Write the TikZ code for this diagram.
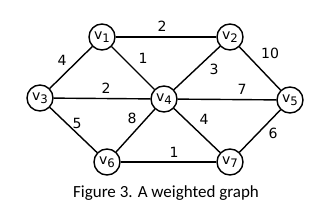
\documentclass[tikz,border=0pt]{standalone}
\usepackage{fontspec}
\setmainfont{DejaVu Sans}
\newfontfamily\capfont{Carlito}
\usetikzlibrary{positioning}
\newcommand{\vname}[1]{v\raisebox{-0.45ex}{\fontsize{10}{10}\selectfont #1}}

\begin{document}
\begin{tikzpicture}[
    x=0.03cm, y=-0.03cm,
    every node/.style={font=\fontsize{12}{14}\selectfont},
    vert/.style={draw, circle, line width=1.2pt, minimum size=0.78cm, inner sep=0pt},
    link/.style={line width=1.2pt},
    wt/.style={inner sep=0pt, font=\fontsize{12}{14}\selectfont},
    captext/.style={font=\capfont\fontsize{14.5}{16}\selectfont, anchor=base}
  ]
  \useasboundingbox (0,0) rectangle (321,217);
  % vertices
  \node[vert] (v1) at (102,37)  {\vname{1}};
  \node[vert] (v2) at (230,37)  {\vname{2}};
  \node[vert] (v3) at (40,98)   {\vname{3}};
  \node[vert] (v4) at (164,99)  {\vname{4}};
  \node[vert] (v5) at (290,100) {\vname{5}};
  \node[vert] (v6) at (107,162) {\vname{6}};
  \node[vert] (v7) at (230,162) {\vname{7}};
  % weighted edges
  \draw[link] (v1) -- node[wt, shift={(-4,-11)}] {2} (v2);
  \draw[link] (v3) -- node[wt, shift={(-9,-7.5)}] {4} (v1);
  \draw[link] (v1) -- node[wt, shift={(10,-10)}] {1} (v4);
  \draw[link] (v4) -- node[wt, shift={(17,1)}] {3} (v2);
  \draw[link] (v2) -- node[wt, shift={(10,-15.5)}] {10} (v5);
  \draw[link] (v3) -- node[wt, shift={(4,-10.5)}] {2} (v4);
  \draw[link] (v4) -- node[wt, shift={(15,-10.5)}] {7} (v5);
  \draw[link] (v3) -- node[wt, shift={(3.5,-7)}] {5} (v6);
  \draw[link] (v6) -- node[wt, shift={(-3.5,-12.5)}] {8} (v4);
  \draw[link] (v4) -- node[wt, shift={(7,-11.5)}] {4} (v7);
  \draw[link] (v7) -- node[wt, shift={(13,2)}] {6} (v5);
  \draw[link] (v6) -- node[wt, shift={(5.5,-10)}] {1} (v7);
  % caption
  \node[captext] (caption) at (166,197.5) {Figure 3. A weighted graph};
\end{tikzpicture}
\end{document}
